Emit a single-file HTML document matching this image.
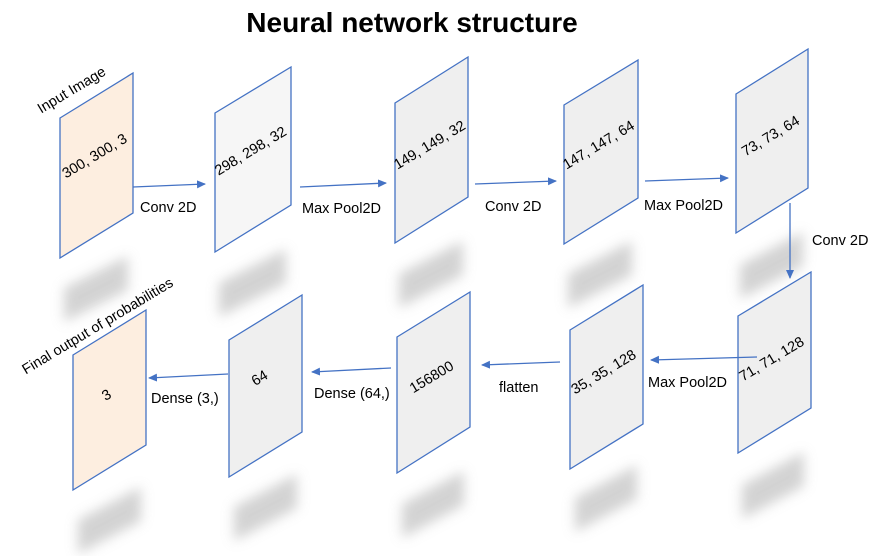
<!DOCTYPE html>
<html><head><meta charset="utf-8"><style>
html,body{margin:0;padding:0;background:#fff;}
svg{display:block;}
text{font-family:"Liberation Sans",sans-serif;font-size:14.5px;fill:#000;}
</style></head><body>
<svg width="889" height="556" viewBox="0 0 889 556" xmlns="http://www.w3.org/2000/svg">
<defs>
<filter id="b" x="-50%" y="-50%" width="200%" height="200%"><feGaussianBlur stdDeviation="6"/></filter>
<marker id="ah" markerWidth="10" markerHeight="10" refX="8" refY="5" orient="auto" markerUnits="userSpaceOnUse">
<path d="M0,1 L9,5 L0,9 Z" fill="#4472c4"/></marker>
</defs>
<text x="412" y="32" text-anchor="middle" style="font-size:28px;font-weight:bold">Neural network structure</text>

<!-- shadows -->
<g fill="#c4c4c4" filter="url(#b)" opacity="0.75">
<polygon points="64,288 128,256 128,290 64,322"/>
<polygon points="219,283 286,249 286,283 219,317"/>
<polygon points="399,274 463,241 463,275 399,308"/>
<polygon points="568,274 632,241 632,275 568,308"/>
<polygon points="740,265 803,232 803,266 740,299"/>
<polygon points="78,520 141,487 141,521 78,554"/>
<polygon points="234,507 297,474 297,508 234,541"/>
<polygon points="402,504 464,471 464,505 402,538"/>
<polygon points="575,498 637,465 637,499 575,532"/>
<polygon points="742,485 804,452 804,486 742,519"/>
</g>

<g stroke="#4472c4" stroke-width="1.3">
<polygon points="60,118 133,73 133,213 60,258" fill="#fdeee0"/>
<polygon points="215,113 291,67 291,205 215,252" fill="#f6f6f6"/>
<polygon points="395,103 468,57 468,197 395,243" fill="#efefef"/>
<polygon points="564,105 638,60 638,198 564,244" fill="#efefef"/>
<polygon points="736,94 808,49 808,188 736,233" fill="#efefef"/>
<polygon points="73,355 146,310 146,445 73,490" fill="#fdeee0"/>
<polygon points="229,340 302,295 302,432 229,477" fill="#efefef"/>
<polygon points="397,337 470,292 470,427 397,473" fill="#efefef"/>
<polygon points="570,330 643,285 643,424 570,469" fill="#efefef"/>
<polygon points="738,316 811,272 811,408 738,453" fill="#efefef"/>
</g>

<g stroke="#4472c4" stroke-width="1.3" marker-end="url(#ah)">
<line x1="133" y1="187" x2="205" y2="184"/>
<line x1="300" y1="187" x2="386" y2="183"/>
<line x1="475" y1="184" x2="556" y2="181"/>
<line x1="645" y1="181" x2="728" y2="178"/>
<line x1="790" y1="203" x2="790" y2="278"/>
<line x1="757" y1="357" x2="651" y2="360"/>
<line x1="560" y1="362" x2="482" y2="365"/>
<line x1="391" y1="368" x2="312" y2="372"/>
<line x1="228" y1="374" x2="149" y2="378"/>
</g>

<g text-anchor="middle">
<text transform="translate(97,160) rotate(-31)">300, 300, 3</text>
<text transform="translate(253,155) rotate(-31)">298, 298, 32</text>
<text transform="translate(432,149) rotate(-31)">149, 149, 32</text>
<text transform="translate(601,149) rotate(-31)">147, 147, 64</text>
<text transform="translate(773,140) rotate(-31)">73, 73, 64</text>
<text transform="translate(109,399) rotate(-31)">3</text>
<text transform="translate(262,382) rotate(-31)">64</text>
<text transform="translate(434,381) rotate(-31)">156800</text>
<text transform="translate(606,376) rotate(-31)">35, 35, 128</text>
<text transform="translate(774,363) rotate(-31)">71, 71, 128</text>
<text transform="translate(74,94) rotate(-31)">Input Image</text>
<text transform="translate(100,330) rotate(-31)">Final output of probabilities</text>
</g>

<text x="140" y="212">Conv 2D</text>
<text x="302" y="213">Max Pool2D</text>
<text x="485" y="211">Conv 2D</text>
<text x="644" y="210">Max Pool2D</text>
<text x="812" y="245">Conv 2D</text>
<text x="648" y="387">Max Pool2D</text>
<text x="499" y="392">flatten</text>
<text x="314" y="398">Dense (64,)</text>
<text x="151" y="403">Dense (3,)</text>
</svg>
</body></html>
